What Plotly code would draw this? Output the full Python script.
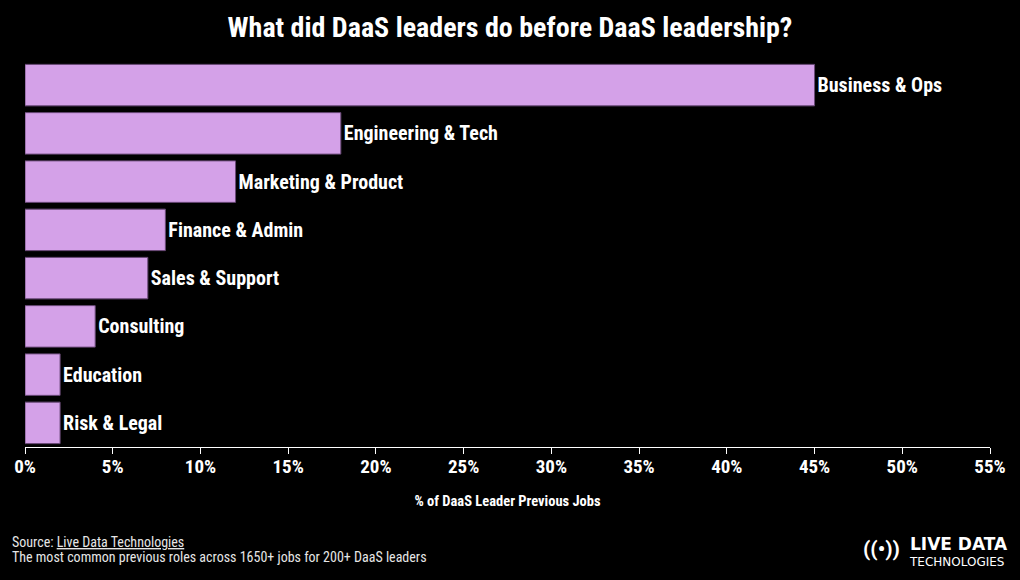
import plotly.graph_objects as go

categories = ["Business & Ops", "Engineering & Tech", "Marketing & Product", "Finance & Admin",
              "Sales & Support", "Consulting", "Education", "Risk & Legal"]
values = [45, 18, 12, 8, 7, 4, 2, 2]
tick_vals = [0, 5, 10, 15, 20, 25, 30, 35, 40, 45, 50, 55]
tick_text = [f"{v}%" for v in tick_vals]

FONT = "Roboto Condensed, Roboto, sans-serif"

fig = go.Figure(go.Bar(
    x=values, y=categories, orientation="h",
    marker=dict(color="#d4a1e8", line=dict(color="#6a4a78", width=1)),
    width=0.86,
    text=categories, textposition="outside", cliponaxis=False,
    textfont=dict(family=FONT, size=20, color="white", weight="bold"),
    hoverinfo="skip",
))

fig.update_layout(
    width=1020, height=580,
    paper_bgcolor="black", plot_bgcolor="black",
    margin=dict(l=25, r=30, t=61, b=133),
    showlegend=False,
    title=dict(text="<b>What did DaaS leaders do before DaaS leadership?</b>",
               x=0.5, xanchor="center", xref="container", yref="container",
               y=1 - 27 / 580, yanchor="middle",
               font=dict(family=FONT, size=28, color="white")),
    xaxis=dict(range=[0, 55], tickvals=tick_vals, ticktext=tick_text,
               showgrid=False, zeroline=False, showline=True, linecolor="white", linewidth=1,
               ticks="outside", tickcolor="white", ticklen=6, ticklabelstandoff=-4,
               tickfont=dict(family=FONT, size=19, color="white", weight="bold"),
               title=dict(text="<b>% of DaaS Leader Previous Jobs</b>", standoff=19,
                          font=dict(family=FONT, size=14.5, color="white"))),
    yaxis=dict(autorange="reversed", showticklabels=False, showgrid=False, zeroline=False,
               showline=False),
    annotations=[
        dict(text="Source: <u>Live Data Technologies</u>",
             xref="paper", yref="paper", x=0, xshift=-15, y=0, yshift=-95, xanchor="left", yanchor="middle",
             align="left", showarrow=False, font=dict(family=FONT, size=14, color="#e6e6e6")),
        dict(text="The most common previous roles across 1650+ jobs for 200+ DaaS leaders",
             xref="paper", yref="paper", x=0, xshift=-15, y=0, yshift=-110, xanchor="left", yanchor="middle",
             align="left", showarrow=False, font=dict(family=FONT, size=14, color="#e6e6e6")),
        dict(text="<b>((•))</b>", xref="paper", yref="paper", x=1, xshift=-88, y=0, yshift=-102,
             xanchor="right", yanchor="middle", showarrow=False,
             font=dict(family="Roboto", size=21, color="white")),
        dict(text="<span style='font-size:17px'><b>LIVE DATA</b></span><br>TECHNOLOGIES",
             xref="paper", yref="paper", x=1, xshift=-83, y=0, yshift=-104,
             xanchor="left", yanchor="middle", align="left", showarrow=False,
             font=dict(family="DejaVu Sans", size=12, color="white")),
    ],
)

fig.write_html("out.html", config={"displayModeBar": False},
               post_script="document.body.style.margin='0';document.body.style.overflow='hidden';")
